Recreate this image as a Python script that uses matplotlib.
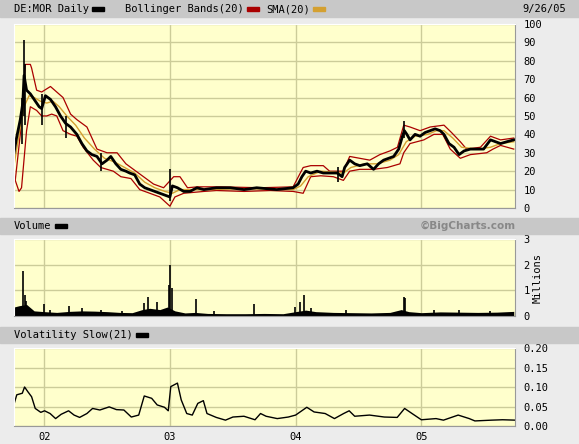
import numpy as np
import matplotlib.pyplot as plt
from matplotlib.patches import Rectangle

# ── DATA (x in fractional years) ─────────────────────────────────────────
close_x = [2001.76, 2001.78, 2001.81, 2001.83, 2001.84, 2001.86, 2001.89, 2001.92, 2001.96, 2001.98,
           2002.01, 2002.05, 2002.09, 2002.13, 2002.17, 2002.21, 2002.26, 2002.30, 2002.34, 2002.38,
           2002.42, 2002.46, 2002.50, 2002.53, 2002.57, 2002.61, 2002.65, 2002.68, 2002.72, 2002.76,
           2002.80, 2002.84, 2002.88, 2002.92, 2002.96, 2003.00, 2003.02, 2003.06, 2003.11, 2003.16,
           2003.215, 2003.27, 2003.37, 2003.48, 2003.59, 2003.69, 2003.85, 2003.98, 2004.02, 2004.05,
           2004.08, 2004.12, 2004.17, 2004.22, 2004.27, 2004.33, 2004.37, 2004.39, 2004.43, 2004.47,
           2004.51, 2004.57, 2004.62, 2004.66, 2004.70, 2004.74, 2004.78, 2004.82, 2004.85, 2004.865,
           2004.885, 2004.91, 2004.95, 2004.99, 2005.03, 2005.07, 2005.11, 2005.15, 2005.18, 2005.22,
           2005.26, 2005.30, 2005.34, 2005.39, 2005.44, 2005.495, 2005.55, 2005.59, 2005.63, 2005.68,
           2005.735]
close = [30, 38, 48, 57, 72, 64, 62, 59, 55, 54,
         61, 59, 55, 50, 46, 44, 40, 35, 31, 29,
         28, 24, 26, 28, 24, 21, 20, 19, 18, 13,
         11, 10, 9, 8, 7, 6, 12, 11, 9, 9,
         11, 10, 11, 11, 10, 11, 10, 11, 13, 17,
         20, 19, 20, 19, 19, 19, 17, 22, 26, 24,
         23, 24, 21, 24, 26, 27, 28, 32, 39, 42,
         40, 37, 40, 39, 41, 42, 43, 42, 40, 35,
         33, 29, 31, 32, 32, 32, 37, 36, 35, 36,
         37]
spike_x = [2001.82, 2001.84, 2001.85, 2001.98, 2002.17, 2002.45, 2003.00, 2004.34, 2004.865]
spike_lo = [35, 50, 45, 45, 38, 20, 4, 14, 38]
spike_hi = [60, 91, 78, 62, 50, 30, 21, 22, 47]

upper_x = [2001.77, 2001.81, 2001.85, 2001.89, 2001.90, 2001.94, 2001.98, 2002.05, 2002.10,
           2002.15, 2002.21, 2002.26, 2002.34, 2002.42, 2002.50, 2002.58, 2002.65, 2002.71,
           2002.79, 2002.87, 2002.95, 2003.03, 2003.08, 2003.14, 2003.22, 2003.40, 2003.72,
           2003.98, 2004.06, 2004.12, 2004.22, 2004.27, 2004.38, 2004.43, 2004.51, 2004.59,
           2004.67, 2004.75, 2004.81, 2004.86, 2004.91, 2004.99, 2005.07, 2005.18, 2005.24,
           2005.31, 2005.36, 2005.47, 2005.55, 2005.63, 2005.735]
upper = [15, 40, 78, 78, 76, 64, 63, 66, 63, 60, 51, 48, 44, 32, 30, 30, 24, 21,
         17, 13, 11, 17, 17, 11, 11.5, 11.5, 11, 11.5, 22, 23, 23, 20, 20, 28, 27, 26,
         29, 31, 33, 45, 44, 42, 44, 45, 41, 36, 32, 33, 39, 37, 38]
lower_x = [2001.77, 2001.80, 2001.82, 2001.86, 2001.89, 2001.94, 2001.98, 2002.02, 2002.06,
           2002.10, 2002.15, 2002.21, 2002.26, 2002.31, 2002.39, 2002.45, 2002.55, 2002.61,
           2002.69, 2002.76, 2002.84, 2002.92, 2003.00, 2003.04, 2003.11, 2003.27, 2003.37,
           2003.59, 2003.80, 2003.98, 2004.06, 2004.12, 2004.20, 2004.30, 2004.38, 2004.43,
           2004.51, 2004.62, 2004.73, 2004.83, 2004.86, 2004.91, 2005.02, 2005.10, 2005.17,
           2005.23, 2005.31, 2005.39, 2005.52, 2005.57, 2005.63, 2005.735]
lower = [15, 9, 11, 42, 55, 53, 50, 50, 51, 50, 42, 40, 39, 33, 26, 22, 20, 17,
         16, 10, 8, 6, 1, 6, 8, 9, 9.5, 9, 9.5, 9, 8, 17, 17.5, 17, 15, 20, 21, 21, 22,
         24, 30, 35, 37, 40, 40, 32, 27, 29, 30, 32, 34, 32]
sma_x = [2001.76, 2001.80, 2001.84, 2001.88, 2001.92, 2001.97, 2002.02, 2002.07, 2002.12,
         2002.18, 2002.25, 2002.32, 2002.40, 2002.48, 2002.56, 2002.64, 2002.72, 2002.80,
         2002.88, 2002.96, 2003.02, 2003.08, 2003.16, 2003.30, 2003.60, 2003.98, 2004.04,
         2004.10, 2004.20, 2004.30, 2004.38, 2004.44, 2004.55, 2004.65, 2004.75, 2004.82,
         2004.88, 2004.95, 2005.05, 2005.12, 2005.18, 2005.25, 2005.32, 2005.45, 2005.55,
         2005.63, 2005.735]
sma = [23, 40, 55, 61, 60, 58, 57, 58, 55, 50, 45, 38, 32, 27, 25, 22, 19, 14,
       11, 9, 8, 10, 10, 10, 10.5, 10, 12, 17, 20, 19.5, 19, 22, 24, 24, 26, 29,
       36, 39, 40, 42, 42, 38, 33, 32, 33, 35, 36]

vol_base_x = [2001.76, 2001.80, 2001.86, 2001.92, 2002.00, 2002.10, 2002.20, 2002.30, 2002.40,
              2002.50, 2002.60, 2002.70, 2002.78, 2002.84, 2002.92, 2002.98, 2003.04, 2003.12,
              2003.20, 2003.30, 2003.45, 2003.60, 2003.75, 2003.90, 2004.00, 2004.08, 2004.16,
              2004.30, 2004.45, 2004.60, 2004.75, 2004.84, 2004.90, 2005.00, 2005.15, 2005.30,
              2005.45, 2005.60, 2005.735]
vol_base = [0.35, 0.40, 0.45, 0.20, 0.17, 0.14, 0.18, 0.20, 0.19, 0.17, 0.14, 0.13, 0.25,
            0.30, 0.25, 0.35, 0.20, 0.12, 0.14, 0.10, 0.09, 0.09, 0.10, 0.09, 0.17, 0.23,
            0.17, 0.14, 0.13, 0.12, 0.14, 0.25, 0.17, 0.13, 0.16, 0.15, 0.14, 0.15, 0.18]
vol_spike_x = [2001.835, 2001.846, 2001.852, 2001.997, 2002.20, 2002.30, 2002.796, 2002.825,
               2002.90, 2002.995, 2003.004, 2003.013, 2003.207, 2003.67, 2003.995, 2004.035,
               2004.065, 2004.86, 2004.87, 2002.05, 2002.45, 2002.62, 2003.35, 2004.12,
               2004.40, 2005.10, 2005.30, 2005.55]
vol_spike = [1.75, 0.8, 0.6, 0.45, 0.4, 0.3, 0.5, 0.75, 0.55, 1.2, 2.0, 1.1, 0.65, 0.45,
             0.35, 0.55, 0.8, 0.75, 0.7, 0.25, 0.25, 0.2, 0.2, 0.3, 0.25, 0.25, 0.25, 0.2]

volat_x = [2001.762, 2001.782, 2001.826, 2001.844, 2001.870, 2001.900, 2001.929, 2001.973,
           2002.003, 2002.047, 2002.091, 2002.135, 2002.194, 2002.238, 2002.282, 2002.340,
           2002.385, 2002.443, 2002.517, 2002.575, 2002.634, 2002.693, 2002.752, 2002.796,
           2002.855, 2002.899, 2002.957, 2002.987, 2003.007, 2003.060, 2003.090, 2003.134,
           2003.178, 2003.222, 2003.266, 2003.295, 2003.369, 2003.442, 2003.501, 2003.589,
           2003.677, 2003.721, 2003.765, 2003.854, 2003.942, 2004.000, 2004.089, 2004.147,
           2004.235, 2004.309, 2004.382, 2004.426, 2004.470, 2004.588, 2004.706, 2004.808,
           2004.867, 2004.926, 2005.000, 2005.117, 2005.176, 2005.293, 2005.381, 2005.426,
           2005.558, 2005.646, 2005.749]
volat = [0.058, 0.080, 0.084, 0.100, 0.088, 0.075, 0.045, 0.035, 0.039, 0.032, 0.019,
         0.030, 0.039, 0.028, 0.022, 0.032, 0.045, 0.041, 0.049, 0.042, 0.041, 0.023,
         0.028, 0.077, 0.071, 0.054, 0.048, 0.039, 0.101, 0.110, 0.067, 0.032, 0.028,
         0.058, 0.065, 0.032, 0.022, 0.015, 0.023, 0.025, 0.016, 0.032, 0.025, 0.019,
         0.023, 0.028, 0.048, 0.036, 0.032, 0.019, 0.032, 0.039, 0.025, 0.028, 0.023,
         0.022, 0.045, 0.032, 0.016, 0.019, 0.015, 0.028, 0.019, 0.013, 0.015, 0.016, 0.015]

year_ticks = [2002, 2003, 2004, 2005]
year_labels = ["02", "03", "04", "05"]

# ── STYLE ────────────────────────────────────────────────────────────────
bg = "#ECECEC"
band = "#C8C8C8"
face = "#FFFFCC"
grid = "#CCCC99"
mono = "DejaVu Sans Mono"
fs = 7.5

fig = plt.figure(figsize=(5.79, 4.44), dpi=100)
fig.patch.set_facecolor(bg)
W, H = 579.0, 444.0

# header bands
for y0, y1 in [(0, 17), (218, 234), (327, 343)]:
    fig.patches.append(Rectangle((0, 1 - y1 / H), 1, (y1 - y0) / H,
                                 transform=fig.transFigure, color=band, zorder=0))

def panel(top, bottom):
    return fig.add_axes([14 / W, 1 - bottom / H, 501 / W, (bottom - top) / H])

xlim = (2001.76, 2005.745)

def style(ax, yt, ylabels):
    ax.set_facecolor(face)
    ax.set_xlim(*xlim)
    ax.set_xticks(year_ticks)
    ax.set_yticks(yt)
    ax.set_yticklabels(ylabels, fontsize=fs, family=mono)
    ax.yaxis.tick_right()
    ax.tick_params(length=0, pad=6)
    ax.grid(True, color=grid, linewidth=1)
    ax.set_axisbelow(True)
    for s in ax.spines.values():
        s.set_color("#999999")
        s.set_linewidth(0.8)
    ax.spines["top"].set_color("#FFFFFF")
    ax.spines["left"].set_color("#FFFFFF")

# ── PRICE ────────────────────────────────────────────────────────────────
ax1 = panel(23.9, 208)
style(ax1, range(0, 101, 10), [str(v) for v in range(0, 101, 10)])
ax1.set_ylim(0, 100)
ax1.set_xticklabels([])
ax1.plot(upper_x, upper, color="#AA0000", lw=0.9)
ax1.plot(lower_x, lower, color="#AA0000", lw=0.9)
ax1.plot(sma_x, sma, color="#D4A030", lw=1.0)
ax1.plot(close_x, close, color="black", lw=2.0)
ax1.vlines(spike_x, spike_lo, spike_hi, color="black", lw=1.2)

# ── VOLUME ───────────────────────────────────────────────────────────────
ax2 = panel(239, 316)
style(ax2, [0, 1, 2, 3], ["0", "1", "2", "3"])
ax2.set_ylim(0, 3)
ax2.set_xticklabels([])
ax2.fill_between(vol_base_x, 0, vol_base, color="black", lw=0)
ax2.vlines(vol_spike_x, 0, vol_spike, color="black", lw=1.2)
fig.text(538 / W, 1 - 278 / H, "Millions", rotation=90, fontsize=fs, family=mono,
         ha="center", va="center")

# ── VOLATILITY ───────────────────────────────────────────────────────────
ax3 = panel(348, 426)
style(ax3, [0, 0.05, 0.10, 0.15, 0.20], ["0.00", "0.05", "0.10", "0.15", "0.20"])
ax3.set_ylim(0, 0.20)
ax3.set_xticklabels(year_labels, fontsize=fs, family=mono)
ax3.tick_params(axis="x", pad=4)
ax3.plot(volat_x, volat, color="black", lw=1.0)

# ── HEADER TEXT ──────────────────────────────────────────────────────────
def label(x, y, s, key=None, **kw):
    fig.text(x / W, 1 - y / H, s, fontsize=fs, family=mono, va="center", **kw)
    if key:
        fig.patches.append(Rectangle(((x + 6.2 * len(s) + 4) / W, 1 - (y + 2) / H), 12 / W, 4 / H,
                                     transform=fig.transFigure, color=key, zorder=3))

label(14, 9, "DE:MOR Daily", "black")
label(125, 9, "Bollinger Bands(20)", "#AA0000")
label(266, 9, "SMA(20)", "#D4A030")
label(566, 9, "9/26/05", ha="right")
label(14, 226, "Volume", "black")
label(14, 335, "Volatility Slow(21)", "black")
fig.text(516 / W, 1 - 226 / H, "©BigCharts.com", fontsize=7.5, fontweight="bold",
         color="#888888", ha="right", va="center")

fig.savefig("out.png", dpi=100, facecolor=bg)
